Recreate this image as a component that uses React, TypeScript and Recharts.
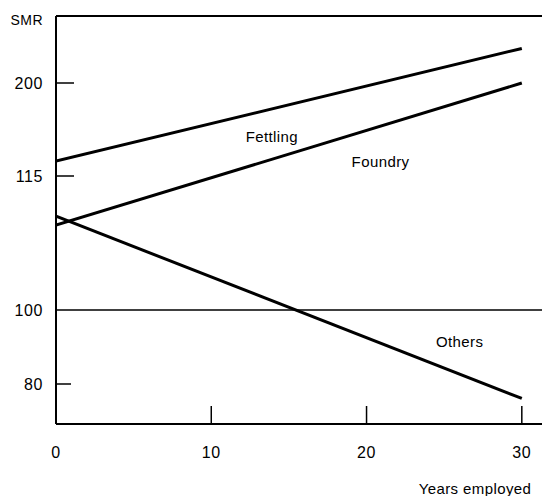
import React from 'react'
import { ComposedChart, Line, Scatter, XAxis, YAxis, ReferenceLine, Label } from 'recharts'

// years employed at the two ends of each line
const years = [0, 30]

// SMR read at 0 and 30 years
const fettling = [128.6, 231.6]
const foundry = [109.5, 200]
const others = [110.5, 76.1]

const xTicks = [0, 10, 20, 30]
const smrTicks = [80, 100, 115, 200]

// the printed SMR axis is not linear: where each tick sits on it
const smrScaleBreaks = [0, 74, 208, 301]

const seriesLabels = [
  { year: 13.9, smr: 151, text: 'Fettling' },
  { year: 20.9, smr: 128.6, text: 'Foundry' },
  { year: 26.0, smr: 91.6, text: 'Others' },
]

const toPos = (smr: number) => {
  const t = smrTicks, p = smrScaleBreaks
  let i = 0
  if (smr >= t[t.length - 1]) i = t.length - 2
  else while (i < t.length - 2 && smr > t[i + 1]) i++
  return p[i] + ((smr - t[i]) * (p[i + 1] - p[i])) / (t[i + 1] - t[i])
}

const data = years.map((year, i) => ({
  year,
  fettling: toPos(fettling[i]),
  foundry: toPos(foundry[i]),
  others: toPos(others[i]),
}))

const labelData = seriesLabels.map(l => ({ year: l.year, pos: toPos(l.smr), text: l.text }))

const font = '"Liberation Sans", Arial, sans-serif'

const YTick = ({ x, y, index }: any) => {
  const value = smrTicks[index]
  const len = value === 100 ? 0 : value === 80 ? 15 : 18
  return (
    <g>
      {len > 0 && <line x1={x} x2={x + len} y1={y} y2={y} stroke="#000" strokeWidth={1.5} />}
      <text x={x - 13} y={y} textAnchor="end" dominantBaseline="central" fontSize={16} letterSpacing={0.6} fontFamily={font} fill="#000">
        {value}
      </text>
    </g>
  )
}

const XTick = ({ x, y, payload }: any) => (
  <g>
    {payload.value !== 0 && <line x1={x} x2={x} y1={y - 18} y2={y} stroke="#000" strokeWidth={1.5} />}
    <text x={x} y={y + 28} textAnchor="middle" dominantBaseline="central" fontSize={16} letterSpacing={0.6} fontFamily={font} fill="#000">
      {payload.value}
    </text>
  </g>
)

const TextShape = ({ cx, cy, payload }: any) => (
  <text x={cx} y={cy} textAnchor="middle" dominantBaseline="central" fontSize={15} letterSpacing={0.4} fontFamily={font} fill="#000">
    {payload.text}
  </text>
)

const App: React.FC = () => {
  return (
    <div style={{ position: 'absolute', left: 0, top: 0, background: '#fff' }}>
      <ComposedChart width={542} height={496} margin={{ top: 16, right: 0, bottom: 0, left: 0 }}>
        <XAxis
          type="number"
          dataKey="year"
          domain={[0, 31.3]}
          ticks={xTicks}
          allowDataOverflow
          height={72}
          axisLine={{ stroke: '#000', strokeWidth: 2 }}
          tickLine={false}
          tickSize={0}
          tickMargin={0}
          tick={<XTick />}
        >
          <Label
            content={({ viewBox }: any) => (
              <text x={viewBox.x + viewBox.width - 67} y={488} textAnchor="middle" dominantBaseline="central" fontSize={15} letterSpacing={0.4} fontFamily={font} fill="#000">
                Years employed
              </text>
            )}
          />
        </XAxis>
        <YAxis
          type="number"
          domain={[-40, 368]}
          ticks={smrTicks.map(toPos)}
          allowDataOverflow
          width={56}
          axisLine={{ stroke: '#000', strokeWidth: 2 }}
          tickLine={false}
          tickSize={0}
          tickMargin={0}
          tick={<YTick />}
        >
          <Label
            content={({ viewBox }: any) => (
              <text x={viewBox.x + viewBox.width - 13} y={20} textAnchor="end" dominantBaseline="central" fontSize={14} letterSpacing={0.5} fontFamily={font} fill="#000">
                SMR
              </text>
            )}
          />
        </YAxis>
        <ReferenceLine y={368} stroke="#000" strokeWidth={2} />
        <ReferenceLine y={toPos(100)} stroke="#000" strokeWidth={1.5} />
        <Line data={data} dataKey="fettling" type="linear" stroke="#000" strokeWidth={3} dot={false} isAnimationActive={false} />
        <Line data={data} dataKey="foundry" type="linear" stroke="#000" strokeWidth={3} dot={false} isAnimationActive={false} />
        <Line data={data} dataKey="others" type="linear" stroke="#000" strokeWidth={3} dot={false} isAnimationActive={false} />
        <Scatter data={labelData} dataKey="pos" shape={<TextShape />} isAnimationActive={false} />
      </ComposedChart>
    </div>
  )
}

export default App
